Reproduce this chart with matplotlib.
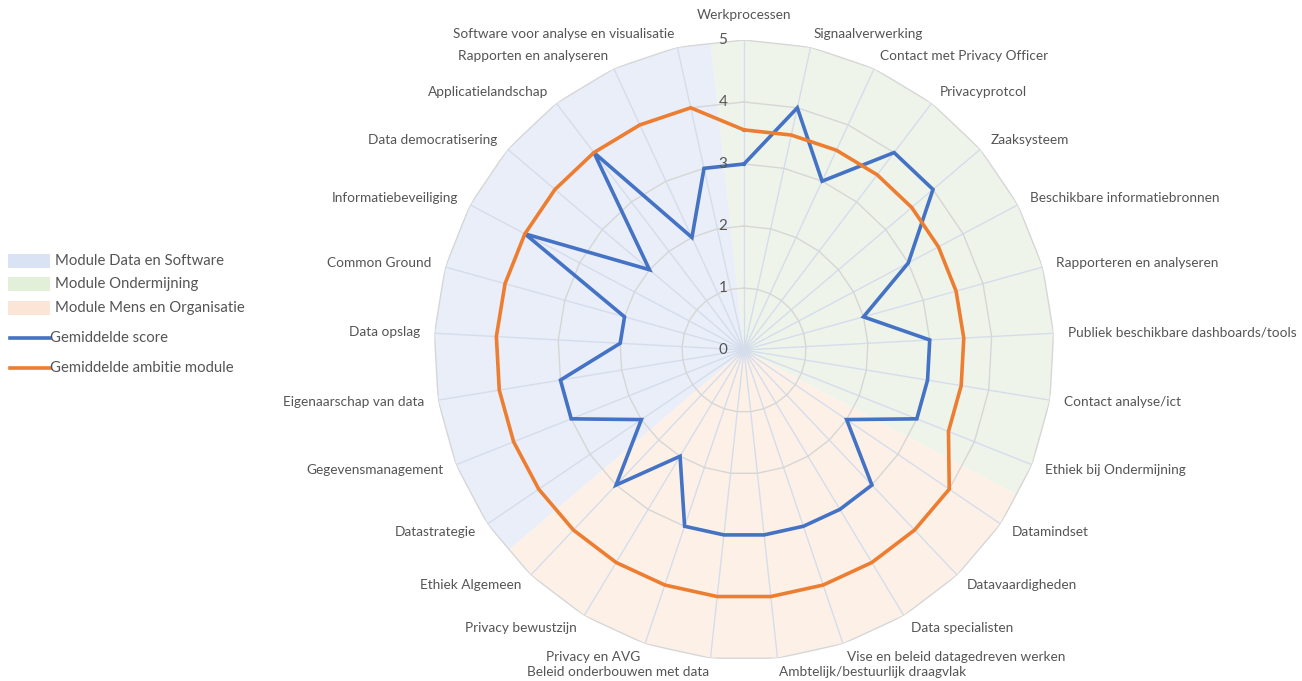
import numpy as np
import matplotlib
matplotlib.use("Agg")
import matplotlib.pyplot as plt
from matplotlib.patches import Rectangle
from matplotlib.lines import Line2D

plt.rcParams['font.family'] = ['Lato', 'DejaVu Sans']

categories = [
    "Werkprocessen", "Signaalverwerking", "Contact met Privacy Officer", "Privacyprotcol",
    "Zaaksysteem", "Beschikbare informatiebronnen", "Rapporteren en analyseren",
    "Publiek beschikbare dashboards/tools", "Contact analyse/ict", "Ethiek bij Ondermijning",
    "Datamindset", "Datavaardigheden", "Data specialisten", "Vise en beleid datagedreven werken",
    "Ambtelijk/bestuurlijk draagvlak", "Beleid onderbouwen met data", "Privacy en AVG",
    "Privacy bewustzijn", "Ethiek Algemeen", "Datastrategie", "Gegevensmanagement",
    "Eigenaarschap van data", "Data opslag", "Common Ground", "Informatiebeveiliging",
    "Data democratisering", "Applicatielandschap", "Rapporten en analyseren",
    "Software voor analyse en visualisatie",
]
# module membership per category (0 = Ondermijning, 1 = Mens en Organisatie, 2 = Data en Software)
module_of = [0]*10 + [1]*9 + [2]*10
module_names = ["Module Ondermijning", "Module Mens en Organisatie", "Module Data en Software"]
score = [3, 4, 3, 4, 4, 3, 2, 3, 3, 3,
         2, 3, 3, 3, 3, 3, 3, 2, 3,
         2, 3, 3, 2, 2, 4, 2, 4, 2, 3]
ambition = [3.55]*10 + [4.0]*9 + [4.0]*10
ticks = [0, 1, 2, 3, 4, 5]

W, H = 1302, 681
cx, cy, R = 744, 350, 310
fig = plt.figure(figsize=(W/100, H/100), dpi=100)
ax = fig.add_axes([(cx-R)/W, (H-(cy+R))/H, 2*R/W, 2*R/H], projection='polar')
ax.set_theta_zero_location('N')
ax.set_theta_direction(-1)
ax.set_ylim(0, 5)
ax.set_axis_off()

n = len(categories)
step = 2*np.pi/n
theta = np.arange(n)*step
rmax = ticks[-1]

bg_colors = ["#eef4ea", "#fdf1e7", "#e9eef8"]
legend_colors = ["#e2efd9", "#fbe5d6", "#dae3f3"]
spoke_c = "#d5ddec"
ring_c = "#d6d6d6"
text_c = "#555555"

# background module sectors (bounded at midpoints between categories)
for m in range(3):
    idx = [i for i in range(n) if module_of[i] == m]
    t0 = theta[idx[0]] - step/2
    t1 = theta[idx[-1]] + step/2
    ts = [0, t0] + [theta[i] for i in idx] + [t1]
    rs = [0, rmax*np.cos(step/2)] + [rmax]*len(idx) + [rmax*np.cos(step/2)]
    ax.fill(ts, rs, color=bg_colors[m], lw=0, zorder=0)

# spokes
for t in theta:
    ax.plot([t, t], [0, rmax], color=spoke_c, lw=1.0, zorder=1)
# rings
tc = np.append(theta, theta[0])
for k in ticks[1:]:
    ax.plot(tc, [k]*(n+1), color=ring_c, lw=1.0, zorder=1.5)

# series
ax.plot(tc, score + score[:1], color="#4472C4", lw=2.6, zorder=3, solid_joinstyle='miter')
ax.plot(tc, ambition + ambition[:1], color="#ED7D31", lw=2.6, zorder=4, solid_joinstyle='miter')

# tick labels
for k in ticks:
    ax.annotate(str(k), xy=(0, k), xytext=(-12, 0), textcoords='offset points',
                ha='right', va='center', fontsize=11, color=text_c, zorder=5)

# category labels
off = 14*0.72
fs = 9.8
for t, name in zip(theta, categories):
    deg = np.degrees(t)
    if deg < 1:
        ax.annotate(name, xy=(t, rmax), xytext=(0, 25*0.72), textcoords='offset points',
                    ha='center', va='center', fontsize=fs, color=text_c)
        continue
    ha = 'left' if deg < 180 else 'right'
    ax.annotate(name, xy=(t, rmax), xytext=(off*np.sin(t), off*np.cos(t)),
                textcoords='offset points', ha=ha, va='center', fontsize=fs, color=text_c)

# legend (manual, figure pixel coordinates)
def fx(x): return x/W
def fy(y): return 1 - y/H
leg_order = [2, 0, 1]
ys = [261, 284, 308]
for m, y in zip(leg_order, ys):
    fig.add_artist(Rectangle((fx(8), fy(y+7)), 42/W, 14/H, transform=fig.transFigure,
                             facecolor=legend_colors[m], edgecolor='none'))
    fig.text(fx(55), fy(y), module_names[m], ha='left', va='center', fontsize=10.7, color=text_c)
for label, col, y in [("Gemiddelde score", "#4472C4", 338), ("Gemiddelde ambitie module", "#ED7D31", 368)]:
    fig.add_artist(Line2D([fx(10), fx(50)], [fy(y), fy(y)], transform=fig.transFigure,
                          color=col, lw=2.6))
    fig.text(fx(50), fy(y), label, ha='left', va='center', fontsize=10.7, color=text_c)

fig.savefig("out.png", dpi=100, facecolor='white')
